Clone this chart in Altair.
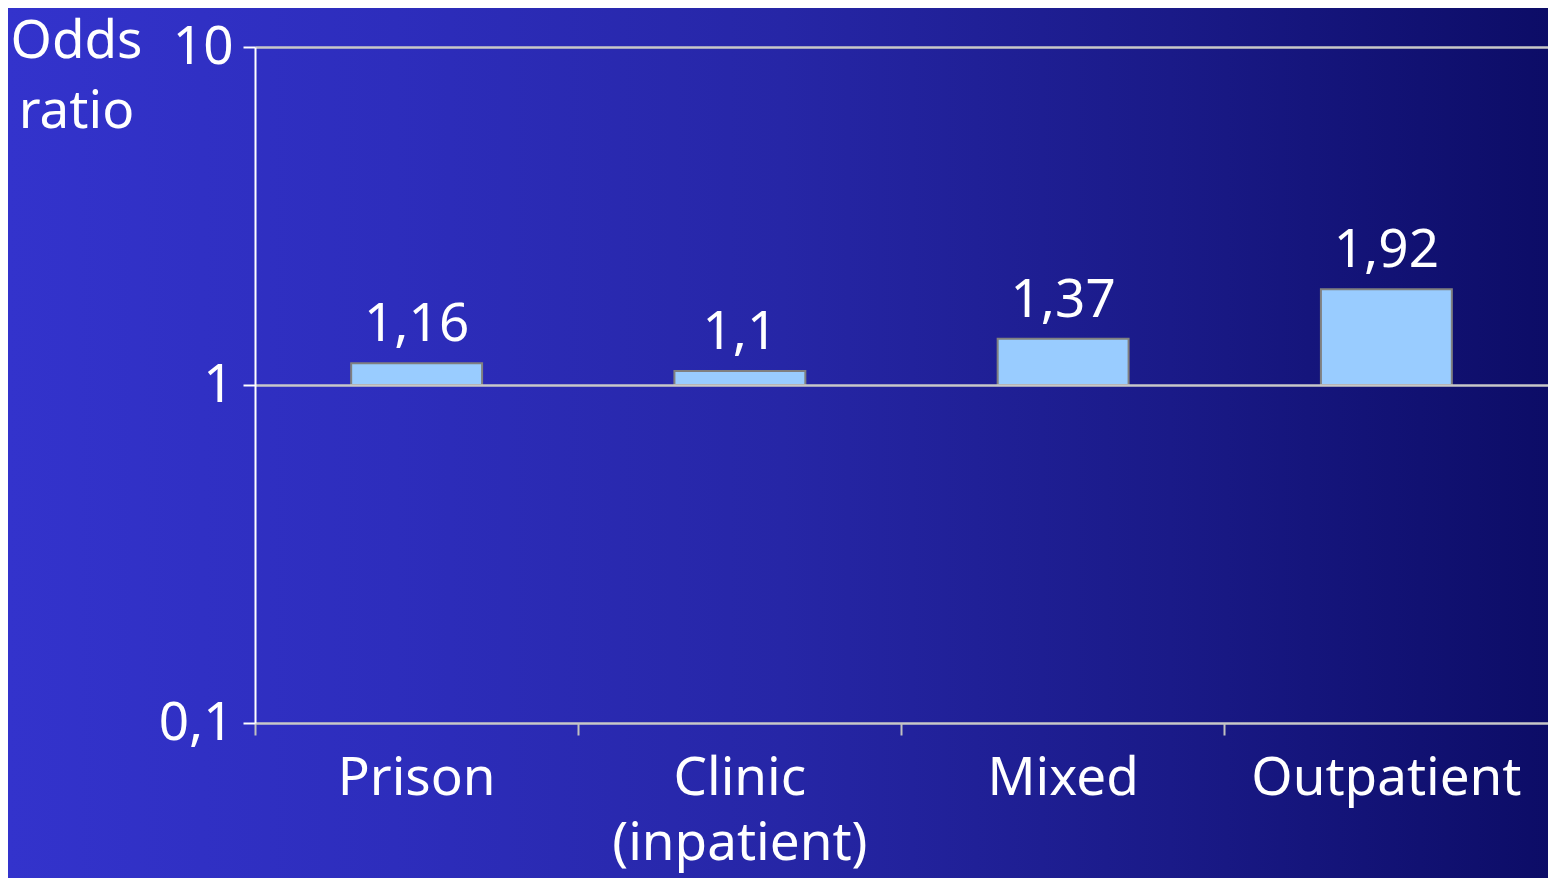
import altair as alt
import pandas as pd

categories = ["Prison", "Clinic\n(inpatient)", "Mixed", "Outpatient"]
odds = [1.16, 1.1, 1.37, 1.92]
y_ticks = [0.1, 1, 10]

df = pd.DataFrame({"cat": categories, "odds": odds, "base": [1.0] * len(odds)})
df["label"] = [str(v).replace(".", ",") for v in odds]

W, H = 1293, 676
PL, PT, PB, PR = 247, 39, 155, 0
FONT = "Noto Sans"
FS = 53

grad = alt.LinearGradient(
    gradient="linear",
    stops=[
        alt.GradientStop(color="#3333cc", offset=0),
        alt.GradientStop(color="#2d2dbc", offset=0.25),
        alt.GradientStop(color="#2626a6", offset=0.5),
        alt.GradientStop(color="#1a1a88", offset=0.75),
        alt.GradientStop(color="#0c0c66", offset=1),
    ],
    x1=0, x2=1, y1=0, y2=0,
)

bg = alt.Chart(pd.DataFrame({"a": [0]})).mark_rect(color=grad).encode(
    x=alt.value(-PL), x2=alt.value(W + PR + 10),
    y=alt.value(-PT), y2=alt.value(H + PB),
)

xenc = alt.X(
    "cat:N", sort=categories,
    scale=alt.Scale(paddingInner=0, paddingOuter=0),
    axis=alt.Axis(
        title=None, labelAngle=0, labelFont=FONT, labelFontSize=FS,
        labelColor="white", labelPadding=17, labelLineHeight=65,
        labelLimit=0,
        labelExpr="split(datum.label, '\\n')",
        domain=False, tickColor="#c0c0c0", tickWidth=2, tickSize=12,
        bandPosition=0, grid=False, zindex=1,
    ),
)
yscale = alt.Scale(type="log", domain=[0.1, 10])
yenc = alt.Y(
    "odds:Q", scale=yscale,
    axis=alt.Axis(
        values=y_ticks, title=["Odds", "ratio"], titleAngle=0,
        titleFont=FONT, titleFontSize=FS, titleFontWeight="normal",
        titleColor="white", titleAlign="center", titleBaseline="alphabetic",
        titleX=-179, titleY=10, titleLineHeight=70, titleLimit=0,
        labelFont=FONT, labelFontSize=FS, labelColor="white", labelPadding=10,
        labelLimit=0,
        labelExpr="replace(format(datum.value, ''), '.', ',')",
        domainColor="white", domainWidth=2,
        tickColor="white", tickWidth=2, tickSize=12,
        grid=True, gridColor="#c8c8c8", gridWidth=2.5, zindex=1,
    ),
)

bars = alt.Chart(df).mark_bar(
    width=alt.RelativeBandSize(0.405), color="#99ccff",
    stroke="#808080", strokeWidth=2,
).encode(x=xenc, y=yenc, y2="base:Q")

text = alt.Chart(df).mark_text(
    font=FONT, fontSize=FS, color="white", baseline="alphabetic", dy=-22,
).encode(x=alt.X("cat:N", sort=categories), y=alt.Y("odds:Q", scale=yscale), text="label:N")

chart = alt.layer(bg, bars, text).properties(
    width=W, height=H,
    autosize=alt.AutoSizeParams(type="none"),
    padding={"left": PL, "top": PT, "bottom": PB, "right": PR},
    background="#2626a6",
).configure_view(stroke=None)

chart.save("out.html", embed_options={"renderer": "svg", "actions": False})
